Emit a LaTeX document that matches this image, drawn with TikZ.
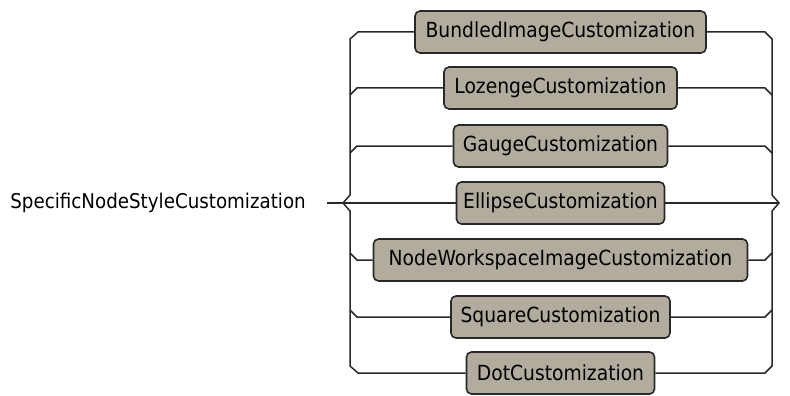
\documentclass[tikz,border=0pt]{standalone}
\usepackage{fontspec}
\setmainfont{DejaVu Sans Condensed}
\definecolor{boxfill}{RGB}{178,172,158}
\definecolor{ink}{RGB}{40,40,40}
\begin{document}
\begin{tikzpicture}[x=1pt,y=-1pt,
  box/.style={draw=ink, fill=boxfill, line width=1.6pt, rounded corners=5pt,
    minimum height=42pt, inner sep=0pt, font=\fontsize{20.8}{24}\selectfont},
  rail/.style={draw=ink, line width=1.5pt},
  lbl/.style={inner sep=0pt, font=\fontsize{20.3}{24}\selectfont}]
\useasboundingbox (0,0) rectangle (790,396);
% boxes
\node[box, minimum width=291pt] (b1) at (560.5,32) {BundledImageCustomization};
\node[box, minimum width=233pt] (b2) at (560.5,88) {LozengeCustomization};
\node[box, minimum width=214pt] (b3) at (560.5,146) {GaugeCustomization};
\node[box, minimum width=208pt] (b4) at (560.5,203) {EllipseCustomization};
\node[box, minimum width=374pt] (b5) at (560.5,260) {NodeWorkspaceImageCustomization};
\node[box, minimum width=219pt] (b6) at (560.5,317) {SquareCustomization};
\node[box, minimum width=188pt] (b7) at (560.5,373) {DotCustomization};
\node[lbl, anchor=east] (lab) at (306,203) {SpecificNodeStyleCustomization};
% rail coordinates
\coordinate (s) at (327,203);
\coordinate (ln) at (343,203);
\coordinate (rn) at (779,203);
% outer rails
\draw[rail] (b1.west) -- (358,32) -- (350,39) -- (350,195) -- (ln) -- (350,211) -- (350,366) -- (358,373) -- (b7.west);
\draw[rail] (b1.east) -- (765,32) -- (772,39) -- (772,195) -- (rn) -- (772,211) -- (772,366) -- (765,373) -- (b7.east);
% main line
\draw[rail] (s) -- (ln) -- (b4.west);
\draw[rail] (b4.east) -- (rn);
% branches above the main line
\foreach \n/\y in {b2/88,b3/146}{
  \draw[rail] (350,\y+7) -- (357,\y) -- (\n.west);
  \draw[rail] (\n.east) -- (765,\y) -- (772,\y+7);
}
% branches below the main line
\foreach \n/\y in {b5/260,b6/317}{
  \draw[rail] (350,\y-7) -- (357,\y) -- (\n.west);
  \draw[rail] (\n.east) -- (765,\y) -- (772,\y-7);
}
\end{tikzpicture}
\end{document}
